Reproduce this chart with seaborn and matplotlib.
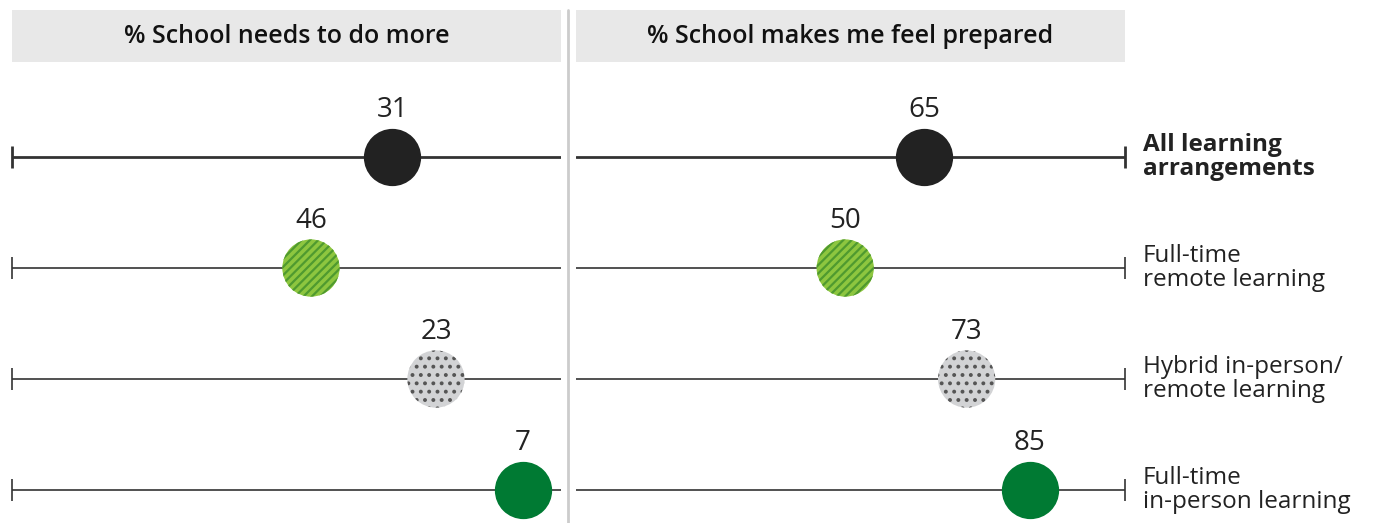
import pandas as pd
import numpy as np
import matplotlib.pyplot as plt
import seaborn as sns
from matplotlib.lines import Line2D
from matplotlib.patches import Rectangle

# data
groups = ["All learning\narrangements", "Full-time\nremote learning",
          "Hybrid in-person/\nremote learning", "Full-time\nin-person learning"]
needs_more = [31, 46, 23, 7]
feel_prepared = [65, 50, 73, 85]
panel_titles = ["% School needs to do more", "% School makes me feel prepared"]

# styles per group: fill, hatch, hatch colour
fills = ["#222222", "#8dc63f", "#d2d3d5", "#007a33"]
hatches = [None, "////", "..", None]
hatch_cols = ["#222222", "#4f9a2f", "#555555", "#007a33"]

sns.set_theme(style="white")
plt.rcParams['font.family'] = ['Open Sans', 'DejaVu Sans']
plt.rcParams['hatch.linewidth'] = 1.6
text_col = "#222222"

df = pd.DataFrame({"group": groups, "row": range(4),
                   "needs": needs_more, "prepared": feel_prepared})

W, H = 1392, 523
fig = plt.figure(figsize=(W / 100, H / 100), dpi=100)

def px_axes(x0, x1, y0, y1):
    return fig.add_axes([x0 / W, 1 - y1 / H, (x1 - x0) / W, (y1 - y0) / H])

ax_l = px_axes(12, 561, 62, 523)
ax_r = px_axes(576, 1125, 62, 523)

panels = [(ax_l, "needs", (101, 0), 0), (ax_r, "prepared", (-1, 103), 1)]

for ax, col, xlim, side in panels:
    ax.set_xlim(*xlim)
    ax.set_ylim(3.297, -0.856)
    for i, r in df.iterrows():
        lw = 2.0 if i == 0 else 1.2
        ax.axhline(r["row"], color="#333333", lw=lw, zorder=1)
        # end cap at the outer end
        ax.plot([xlim[0] if side == 0 else xlim[1]], [r["row"]], marker="|",
                ms=16, mew=lw, color="#333333", clip_on=False, zorder=1)
        sns.scatterplot(x=[r[col]], y=[r["row"]], ax=ax, s=1700,
                        color=fills[i], edgecolor=hatch_cols[i], linewidth=0,
                        hatch=hatches[i], zorder=3, legend=False)
        ax.annotate(str(r[col]), (r[col], r["row"]), xytext=(0, 34),
                    textcoords="offset points", ha="center", va="center",
                    fontsize=20, color=text_col)
    ax.axis("off")
    # header box
    ax.add_patch(Rectangle((0, 1.0), 1, 52 / 461, transform=ax.transAxes,
                           facecolor="#e8e8e8", edgecolor="none", clip_on=False))
    ax.text(0.5, 1 + 26 / 461, panel_titles[side], transform=ax.transAxes,
            ha="center", va="center", fontsize=18, fontweight="semibold",
            color="#111111")

# row labels on the right
for i, r in df.iterrows():
    ax_r.annotate(r["group"], (1, r["row"]), xycoords=("axes fraction", "data"),
                  xytext=(13, 0), textcoords="offset points", ha="left",
                  va="center", fontsize=17.5, linespacing=1.0, color=text_col,
                  fontweight="bold" if i == 0 else "normal")

# separator
fig.add_artist(Line2D([568 / W, 568 / W], [0, 1 - 10 / H], color="#cccccc", lw=2))

fig.savefig("out.png", dpi=100)
